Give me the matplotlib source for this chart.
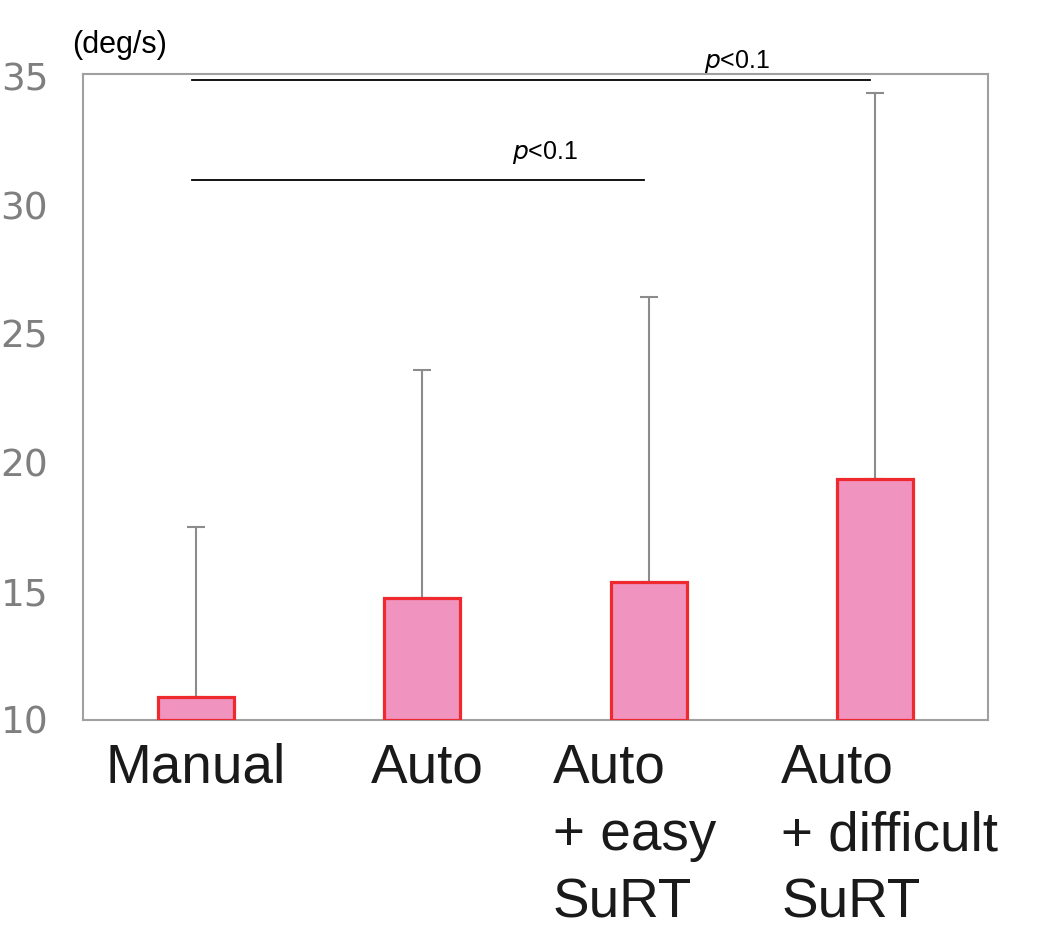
import matplotlib.pyplot as plt
import matplotlib as mpl

mpl.rcParams['font.family'] = ['Liberation Sans', 'DejaVu Sans']

labels = ['Manual', 'Auto', 'Auto\n+ easy\nSuRT', 'Auto\n+ difficult\nSuRT']
means = [10.9, 14.75, 15.38, 19.38]
err_up = [6.6, 8.85, 11.07, 15.0]
yticks = [10, 15, 20, 25, 30, 35]
# significance brackets: (from, to, height, text x, text y)
sig = [(0, 3, 34.86, 2.39, 35.6), (0, 2, 30.97, 1.544, 32.06)]

fig = plt.figure(figsize=(10.45, 9.43), dpi=100)
ax = fig.add_axes([0.0794, 0.2365, 0.866, 0.685])

x = list(range(len(means)))
ax.bar(x, [m - 10 for m in means], bottom=10, width=0.336,
       color='#F093BF', edgecolor='#EE2A2F', linewidth=2.3, zorder=3)
ax.errorbar(x, means, yerr=[[0] * 4, err_up], fmt='none', ecolor='#8C8C8C',
            elinewidth=1.5, capsize=6.5, capthick=1.5, zorder=2)

ax.set_xlim(-0.5, 3.5)
ax.set_ylim(10, 35.1)
ax.set_yticks(yticks)
ax.set_yticklabels([str(t) for t in yticks], family='DejaVu Sans', fontsize=27, color='#7F7F7F')
ax.set_xticks(x)
ax.set_xticklabels([])
ax.tick_params(axis='both', length=0)
ax.tick_params(axis='y', pad=25)
for s in ax.spines.values():
    s.set_color('#A0A0A0')
    s.set_linewidth(1.5)

# category labels, multi-line ones left aligned and nudged like the original
shifts = [0, 5, -14, 15]
for i, (lab, dx) in enumerate(zip(labels, shifts)):
    ax.annotate(lab, xy=(i, 0), xycoords=('data', 'axes fraction'),
                xytext=(dx, -23), textcoords='offset pixels',
                ha='center', va='top', multialignment='left',
                fontsize=39.5, color='#1a1a1a', linespacing=1.38)

for a, b, h, tx, ty in sig:
    ax.plot([a - 0.02, b - 0.02], [h, h], color='black', lw=1.3, clip_on=False)
    ax.text(tx, ty, '$\\mathit{p}$<0.1', ha='center', va='center', fontsize=18, clip_on=False)

fig.text(72 / 1045, 1 - 45 / 943, '(deg/s)', fontsize=22, va='center', ha='left')

fig.savefig('out.png')
